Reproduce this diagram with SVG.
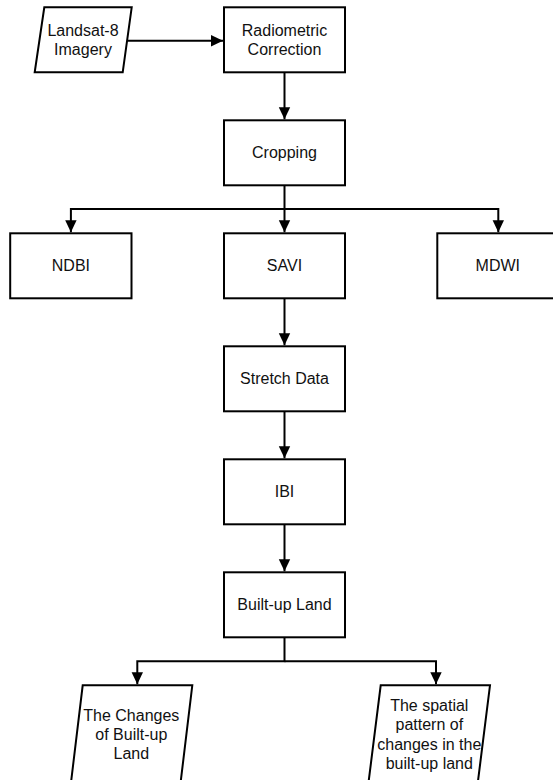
<svg xmlns="http://www.w3.org/2000/svg" width="553" height="780" viewBox="0 0 553 780">
<defs>
<style>
.box{fill:#ffffff;stroke:#000000;stroke-width:2}
.lbl{font-family:"Liberation Sans",Arial,Helvetica,sans-serif;font-size:16px;fill:#111111;text-anchor:middle}
.conn{fill:none;stroke:#000000;stroke-width:2}
</style>
<marker id="arr" markerUnits="userSpaceOnUse" markerWidth="14" markerHeight="14" viewBox="0 0 14 14" refX="13" refY="7" orient="auto">
<path d="M1,1.3 L13,7 L1,12.7 Z" fill="#000000"/>
</marker>
</defs>
<rect x="0" y="0" width="553" height="780" fill="#ffffff"/>
<g id="connectors">
<path class="conn" d="M127.2,40.7 H223" marker-end="url(#arr)"/>
<path class="conn" d="M284.5,72.3 V119.3" marker-end="url(#arr)"/>
<path class="conn" d="M284.5,185.3 V232.3" marker-end="url(#arr)"/>
<path class="conn" d="M284.5,209 H70.9 V232.3" marker-end="url(#arr)"/>
<path class="conn" d="M284.5,209 H498.3 V232.3" marker-end="url(#arr)"/>
<path class="conn" d="M284.5,298.3 V345.3" marker-end="url(#arr)"/>
<path class="conn" d="M284.5,411.3 V458.3" marker-end="url(#arr)"/>
<path class="conn" d="M284.5,524.3 V571.3" marker-end="url(#arr)"/>
<path class="conn" d="M284.5,637.3 V661.3 H137.3 V684.3" marker-end="url(#arr)"/>
<path class="conn" d="M284.5,661.3 H436 V684.3" marker-end="url(#arr)"/>
</g>
<g id="landsat">
<polygon class="box" points="44.3,7.3 131.7,7.3 122.7,72.3 34.7,72.3"/>
<text class="lbl" x="83" y="35.8">Landsat-8</text>
<text class="lbl" x="83" y="54.8">Imagery</text>
</g>
<g id="radiometric">
<rect class="box" x="224" y="7.3" width="121" height="65"/>
<text class="lbl" x="284.5" y="35.8">Radiometric</text>
<text class="lbl" x="284.5" y="54.8">Correction</text>
</g>
<g id="cropping">
<rect class="box" x="224" y="120.3" width="121" height="65"/>
<text class="lbl" x="284.5" y="158.3">Cropping</text>
</g>
<g id="ndbi">
<rect class="box" x="10.2" y="233.3" width="121.3" height="65"/>
<text class="lbl" x="70.9" y="271.3">NDBI</text>
</g>
<g id="savi">
<rect class="box" x="224" y="233.3" width="121" height="65"/>
<text class="lbl" x="284.5" y="271.3">SAVI</text>
</g>
<g id="mdwi">
<rect class="box" x="437.3" y="233.3" width="121.3" height="65"/>
<text class="lbl" x="497.8" y="271.3">MDWI</text>
</g>
<g id="stretch">
<rect class="box" x="224" y="346.3" width="121" height="65"/>
<text class="lbl" x="284.5" y="384.3">Stretch Data</text>
</g>
<g id="ibi">
<rect class="box" x="224" y="459.3" width="121" height="65"/>
<text class="lbl" x="284.5" y="497.3">IBI</text>
</g>
<g id="builtup">
<rect class="box" x="224" y="572.3" width="121" height="65"/>
<text class="lbl" x="284.5" y="610.3">Built-up Land</text>
</g>
<g id="changes">
<polygon class="box" points="82.7,685.3 192.3,685.3 180.3,785 70.7,785"/>
<text class="lbl" x="131.3" y="720.5">The Changes</text>
<text class="lbl" x="131.3" y="739.7">of Built-up</text>
<text class="lbl" x="131.3" y="758.9">Land</text>
</g>
<g id="spatial">
<polygon class="box" points="380.7,685.3 490,685.3 477.5,785 368.2,785"/>
<text class="lbl" x="429.3" y="710.5">The spatial</text>
<text class="lbl" x="429.3" y="730">pattern of</text>
<text class="lbl" x="429.3" y="749.5">changes in the</text>
<text class="lbl" x="429.3" y="769">built-up land</text>
</g>
</svg>
